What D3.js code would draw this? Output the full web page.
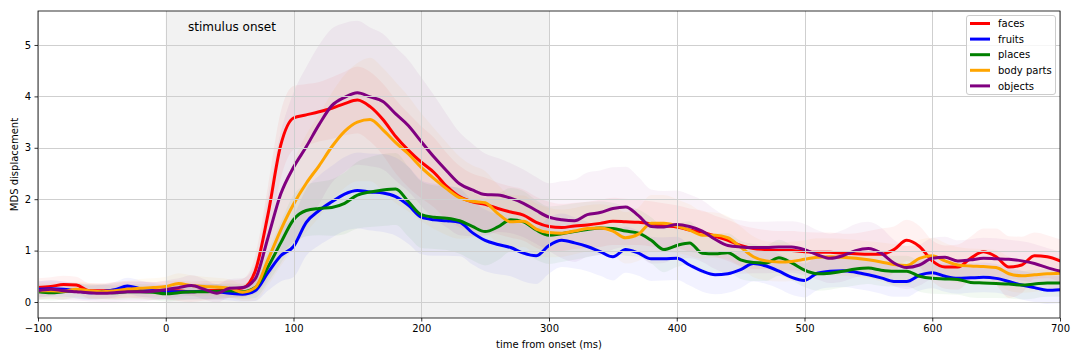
<!DOCTYPE html>
<html><head><meta charset="utf-8">
<script src="https://cdn.jsdelivr.net/npm/d3@7"></script>
<style>
html,body{margin:0;padding:0;background:#fff;}
svg{display:block;font-family:"DejaVu Sans",sans-serif;}
</style></head>
<body><svg id="chart" width="1080" height="360"></svg>
<script>
// ---------- data ----------
const times = d3.range(-100, 701, 10); // ms, 81 samples
const categories = ["faces", "fruits", "places", "body parts", "objects"];
const colors = ["#ff0000", "#0000ff", "#008000", "#ffa500", "#800080"];
const xTicks = [-100, 0, 100, 200, 300, 400, 500, 600, 700];
const yTicks = [0, 1, 2, 3, 4, 5];
const onsetSpan = [0, 300];

const faces = [0.28,0.30,0.34,0.33,0.22,0.22,0.23,0.25,0.24,0.22,0.23,0.22,0.20,0.22,0.23,0.25,0.27,
  0.60,1.70,3.05,3.58,3.64,3.70,3.77,3.86,3.93,3.80,3.55,3.22,2.95,2.72,2.52,2.25,2.05,1.95,1.90,1.82,1.75,1.69,1.55,1.47,
  1.45,1.48,1.50,1.53,1.57,1.56,1.55,1.52,1.48,1.46,1.40,1.36,1.28,1.20,1.10,1.04,1.02,1.00,1.00,0.98,
  0.97,0.97,0.95,0.94,0.93,0.93,1.02,1.20,1.08,0.80,0.68,0.68,0.85,0.98,0.88,0.68,0.72,0.90,0.88,0.80];
const fruits = [0.25,0.26,0.25,0.22,0.18,0.20,0.24,0.31,0.26,0.22,0.20,0.20,0.20,0.21,0.20,0.17,0.15,
  0.22,0.57,0.90,1.08,1.55,1.78,1.95,2.10,2.17,2.14,2.12,2.05,1.88,1.65,1.60,1.58,1.55,1.35,1.20,1.12,1.06,0.95,0.90,1.10,
  1.20,1.15,1.08,0.98,0.88,1.02,0.95,0.84,0.84,0.85,0.72,0.60,0.53,0.55,0.63,0.75,0.70,0.60,0.48,0.42,
  0.56,0.60,0.61,0.58,0.53,0.47,0.40,0.40,0.52,0.57,0.50,0.46,0.47,0.48,0.46,0.40,0.33,0.28,0.23,0.24];
const places = [0.20,0.18,0.20,0.22,0.20,0.20,0.18,0.20,0.20,0.19,0.16,0.18,0.20,0.20,0.21,0.22,0.20,
  0.28,0.68,1.15,1.60,1.78,1.82,1.84,1.92,2.08,2.14,2.18,2.20,1.95,1.70,1.65,1.63,1.58,1.47,1.37,1.46,1.60,1.56,1.40,1.30,
  1.33,1.37,1.41,1.44,1.43,1.38,1.34,1.20,1.02,1.10,1.15,0.95,0.94,0.96,0.82,0.77,0.76,0.86,0.76,0.62,
  0.55,0.56,0.60,0.64,0.66,0.62,0.60,0.60,0.50,0.46,0.45,0.44,0.38,0.37,0.36,0.35,0.33,0.35,0.37,0.37];
const bodyParts = [0.22,0.22,0.21,0.25,0.22,0.20,0.22,0.25,0.27,0.28,0.30,0.36,0.32,0.30,0.29,0.27,0.19,
  0.28,0.82,1.40,1.90,2.31,2.65,3.02,3.32,3.50,3.55,3.35,3.10,2.88,2.62,2.40,2.20,2.03,1.96,1.93,1.72,1.56,1.57,1.42,1.35,
  1.34,1.38,1.43,1.44,1.38,1.25,1.32,1.53,1.53,1.48,1.40,1.30,1.30,1.25,1.07,0.88,0.80,0.78,0.79,0.83,
  0.87,0.88,0.87,0.85,0.82,0.78,0.73,0.71,0.85,0.90,0.80,0.72,0.70,0.69,0.67,0.55,0.51,0.53,0.55,0.56];
const objects = [0.22,0.25,0.22,0.20,0.18,0.17,0.18,0.20,0.20,0.21,0.24,0.28,0.32,0.25,0.17,0.27,0.28,
  0.45,1.25,2.10,2.62,3.02,3.45,3.82,3.98,4.07,3.99,3.90,3.66,3.43,3.12,2.82,2.55,2.30,2.18,2.09,2.08,2.02,1.92,1.78,1.65,
  1.60,1.58,1.70,1.74,1.82,1.85,1.68,1.47,1.46,1.51,1.47,1.38,1.22,1.10,1.07,1.06,1.06,1.07,1.07,1.02,
  0.92,0.85,0.90,1.00,1.04,0.95,0.76,0.67,0.72,0.85,0.87,0.80,0.82,0.85,0.84,0.83,0.80,0.75,0.67,0.60];

// half-widths of the shaded bands
const facesErr = [0.18,0.18,0.17,0.16,0.15,0.15,0.16,0.16,0.17,0.17,0.18,0.20,0.20,0.19,0.18,0.17,0.18,
  0.30,0.55,0.65,0.62,0.60,0.58,0.60,0.62,0.65,0.68,0.70,0.72,0.72,0.70,0.68,0.65,0.60,0.55,0.52,0.50,0.50,0.50,0.50,0.48,
  0.46,0.45,0.45,0.46,0.46,0.45,0.44,0.44,0.44,0.42,0.42,0.42,0.40,0.40,0.40,0.40,0.38,0.38,0.38,0.38,
  0.38,0.38,0.38,0.40,0.45,0.50,0.45,0.40,0.40,0.40,0.42,0.44,0.42,0.45,0.55,0.60,0.55,0.45,0.42,0.42];
const fruitsErr = [0.16,0.16,0.15,0.15,0.14,0.14,0.15,0.16,0.16,0.15,0.15,0.15,0.15,0.15,0.15,0.14,0.14,
  0.20,0.35,0.50,0.60,0.65,0.68,0.70,0.72,0.74,0.75,0.76,0.76,0.75,0.72,0.70,0.68,0.66,0.62,0.60,0.58,0.56,0.55,0.55,0.55,
  0.52,0.50,0.48,0.47,0.46,0.45,0.44,0.43,0.42,0.42,0.40,0.40,0.38,0.37,0.36,0.35,0.35,0.34,0.34,0.33,
  0.33,0.32,0.32,0.32,0.31,0.31,0.30,0.30,0.30,0.30,0.30,0.30,0.29,0.29,0.28,0.28,0.28,0.28,0.27,0.27];
const placesErr = [0.15,0.15,0.15,0.15,0.14,0.14,0.14,0.15,0.15,0.15,0.15,0.15,0.15,0.15,0.14,0.14,0.14,
  0.20,0.30,0.40,0.48,0.50,0.52,0.55,0.60,0.65,0.68,0.70,0.70,0.68,0.65,0.62,0.62,0.64,0.66,0.66,0.65,0.62,0.60,0.58,0.56,
  0.55,0.55,0.54,0.52,0.50,0.48,0.46,0.45,0.44,0.42,0.42,0.40,0.40,0.38,0.37,0.36,0.35,0.35,0.34,0.33,
  0.33,0.32,0.32,0.32,0.31,0.31,0.30,0.30,0.30,0.30,0.30,0.30,0.29,0.29,0.28,0.28,0.28,0.28,0.27,0.27];
const bodyPartsErr = [0.16,0.16,0.16,0.15,0.15,0.15,0.16,0.17,0.18,0.18,0.19,0.20,0.20,0.19,0.18,0.17,0.17,
  0.25,0.50,0.70,0.85,0.95,1.00,1.05,1.10,1.15,1.20,1.20,1.18,1.12,1.05,0.98,0.90,0.80,0.70,0.62,0.56,0.52,0.50,0.50,0.48,
  0.46,0.45,0.45,0.46,0.48,0.50,0.52,0.55,0.55,0.52,0.50,0.46,0.44,0.42,0.40,0.40,0.38,0.38,0.38,0.37,
  0.37,0.36,0.36,0.36,0.36,0.38,0.40,0.38,0.36,0.35,0.35,0.35,0.34,0.34,0.34,0.33,0.33,0.33,0.32,0.32];
const objectsErr = [0.18,0.18,0.18,0.17,0.17,0.17,0.18,0.19,0.19,0.18,0.18,0.18,0.20,0.20,0.18,0.18,0.18,
  0.30,0.80,1.20,1.45,1.55,1.55,1.50,1.45,1.40,1.35,1.32,1.30,1.28,1.25,1.20,1.10,1.00,0.90,0.80,0.72,0.68,0.66,0.65,0.66,
  0.75,0.80,0.82,0.82,0.80,0.78,0.75,0.72,0.70,0.66,0.62,0.60,0.58,0.55,0.52,0.50,0.50,0.50,0.50,0.50,
  0.48,0.48,0.50,0.52,0.52,0.50,0.45,0.42,0.40,0.40,0.40,0.40,0.40,0.40,0.40,0.38,0.38,0.38,0.38,0.38];

const seriesValues = [faces, fruits, places, bodyParts, objects];
const seriesErrors = [facesErr, fruitsErr, placesErr, bodyPartsErr, objectsErr];

// ---------- layout ----------
const svg = d3.select("#chart");
const L = 38, R = 1060, T = 11, B = 318;
const x = d3.scaleLinear().domain([-100, 700]).range([L, R]);
const y = d3.scaleLinear().domain([-0.311, 5.661]).range([B, T]);

const plot = svg.append("g");
plot.append("defs").append("clipPath").attr("id", "clip")
  .append("rect").attr("x", L).attr("y", T).attr("width", R - L).attr("height", B - T);

// stimulus span
plot.append("rect")
  .attr("x", x(onsetSpan[0])).attr("y", T)
  .attr("width", x(onsetSpan[1]) - x(onsetSpan[0])).attr("height", B - T)
  .attr("fill", "#f2f2f2");

const gc = plot.append("g").attr("clip-path", "url(#clip)");

// bands
seriesValues.forEach((vals, i) => {
  const err = seriesErrors[i];
  const area = d3.area()
    .x((d, j) => x(times[j]))
    .y0((d, j) => y(vals[j] - err[j]))
    .y1((d, j) => y(vals[j] + err[j]))
    .curve(d3.curveMonotoneX);
  gc.append("path").datum(vals).attr("d", area)
    .attr("fill", colors[i]).attr("fill-opacity", 0.05).attr("stroke", "none");
});

// grid
const grid = plot.append("g");
xTicks.forEach(t => grid.append("line")
  .attr("x1", Math.round(x(t)) + 0.5).attr("x2", Math.round(x(t)) + 0.5)
  .attr("y1", T).attr("y2", B).attr("stroke", "#cfcfcf").attr("stroke-width", 1));
yTicks.forEach(t => grid.append("line")
  .attr("x1", L).attr("x2", R)
  .attr("y1", Math.round(y(t)) + 0.5).attr("y2", Math.round(y(t)) + 0.5)
  .attr("stroke", "#cfcfcf").attr("stroke-width", 1));

// lines
seriesValues.forEach((vals, i) => {
  const line = d3.line().x((d, j) => x(times[j])).y(d => y(d)).curve(d3.curveMonotoneX);
  gc.append("path").datum(vals).attr("d", line)
    .attr("fill", "none").attr("stroke", colors[i]).attr("stroke-width", 3)
    .attr("stroke-linejoin", "round").attr("stroke-linecap", "square");
});

// axes
const fmt = d => (d < 0 ? "\u2212" + Math.abs(d) : String(d));
const xAxis = d3.axisBottom(x).tickValues(xTicks).tickSize(3.5).tickPadding(3.5).tickFormat(fmt);
const yAxis = d3.axisLeft(y).tickValues(yTicks).tickSize(3.5).tickPadding(3.5).tickFormat(fmt);
const gx = svg.append("g").attr("transform", `translate(0,${B})`).call(xAxis);
const gy = svg.append("g").attr("transform", `translate(${L},0)`).call(yAxis);
[gx, gy].forEach(g => {
  g.select(".domain").remove();
  g.selectAll("text").attr("font-size", 10).attr("fill", "#000").attr("font-family", "DejaVu Sans");
  g.selectAll("line").attr("stroke", "#000").attr("stroke-width", 0.8);
});

// frame
svg.append("rect").attr("x", L).attr("y", T).attr("width", R - L).attr("height", B - T)
  .attr("fill", "none").attr("stroke", "#000").attr("stroke-width", 0.8);

// labels
svg.append("text").attr("x", (L + R) / 2).attr("y", 348).attr("text-anchor", "middle")
  .attr("font-size", 10).text("time from onset (ms)");
svg.append("text").attr("transform", `translate(18,${(T + B) / 2}) rotate(-90)`)
  .attr("text-anchor", "middle").attr("font-size", 10).text("MDS displacement");
svg.append("text").attr("x", 188).attr("y", 31).attr("font-size", 12).text("stimulus onset");

// legend
const lg = svg.append("g");
lg.append("rect").attr("x", 966.5).attr("y", 15.5).attr("width", 89).attr("height", 79)
  .attr("rx", 2.5).attr("fill", "#fff").attr("fill-opacity", 0.8)
  .attr("stroke", "#cccccc").attr("stroke-width", 1);
categories.forEach((c, i) => {
  const yy = 23.5 + i * 15.6;
  lg.append("line").attr("x1", 970).attr("x2", 990).attr("y1", yy).attr("y2", yy)
    .attr("stroke", colors[i]).attr("stroke-width", 3);
  lg.append("text").attr("x", 998).attr("y", yy + 3.6).attr("font-size", 10).text(c);
});
</script>
</body></html>
